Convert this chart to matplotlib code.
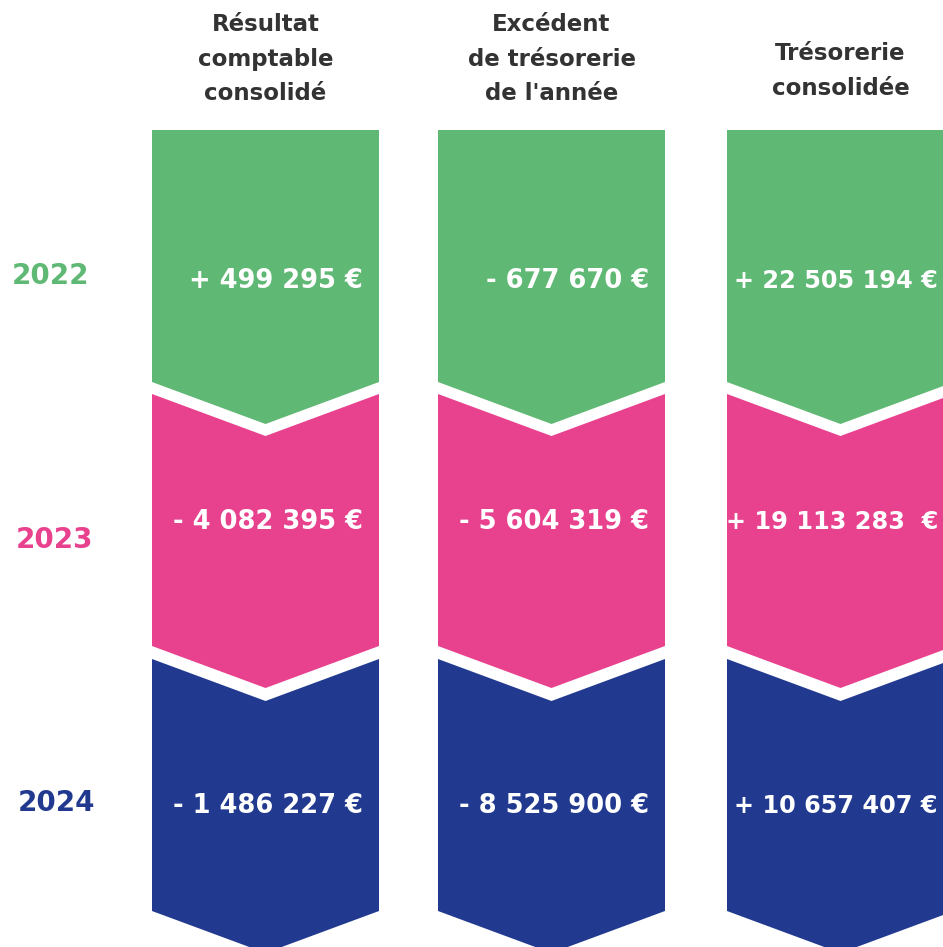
import matplotlib
matplotlib.use("Agg")
import matplotlib.pyplot as plt
from matplotlib.patches import Polygon

# ---- data ----
headers = ["Résultat\ncomptable\nconsolidé", "Excédent\nde trésorerie\nde l'année", "Trésorerie\nconsolidée"]
years = ["2022", "2023", "2024"]
values = [
    ["+ 499 295 €", "- 677 670 €", "+ 22 505 194 €"],
    ["- 4 082 395 €", "- 5 604 319 €", "+ 19 113 283  €"],
    ["- 1 486 227 €", "- 8 525 900 €", "+ 10 657 407 €"],
]
year_colors = ["#5fb874", "#e8418e", "#213a8f"]

# ---- layout ----
W, H = 943, 947
col_left = [152, 438, 727]
col_w = 227
row_top = [130, 394, 659]
side_h = 252
tip = 42
value_size = [18.5, 18.5, 17.3]
FONT = ["DejaVu Sans"]

fig = plt.figure(figsize=(W / 100, H / 100), dpi=100)
ax = fig.add_axes([0, 0, 1, 1])
ax.set_xlim(0, W)
ax.set_ylim(H, 0)
ax.axis("off")

for c, x0 in enumerate(col_left):
    x1 = x0 + col_w
    xm = (x0 + x1) / 2
    for r, y0 in enumerate(row_top):
        y1 = y0 + side_h
        if r == 0:
            pts = [(x0, y0), (x1, y0), (x1, y1), (xm, y1 + tip), (x0, y1)]
        else:
            pts = [(x0, y0), (xm, y0 + tip), (x1, y0), (x1, y1), (xm, y1 + tip), (x0, y1)]
        ax.add_patch(Polygon(pts, closed=True, facecolor=year_colors[r], edgecolor="none"))
        ty = [281, 522, 806][r]
        ax.text(x1 - 16, ty, values[r][c], ha="right", va="center", color="white",
                fontsize=value_size[c], fontweight="bold", family=FONT)
    # header
    ax.text(xm, 59 if c < 2 else 71, headers[c], ha="center", va="center", color="#333333",
            fontsize=16.5, fontweight="bold", family=FONT, linespacing=1.66)

year_pos = [(50, 276), (55, 540), (57, 803)]
for r, (yx, yy) in enumerate(year_pos):
    ax.text(yx, yy, years[r], ha="center", va="center", color=year_colors[r],
            fontsize=20, fontweight="bold", family=FONT)

fig.savefig("out.png", dpi=100)
